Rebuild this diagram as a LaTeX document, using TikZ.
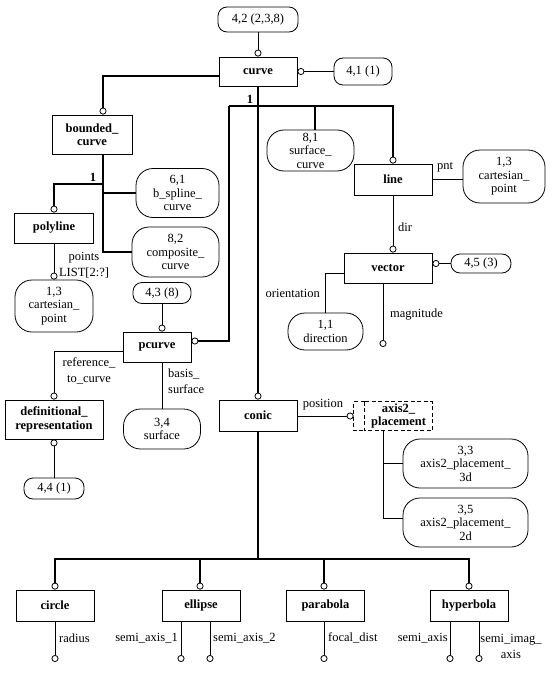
\documentclass[tikz,border=0pt]{standalone}
\usepackage{fontspec}
\setmainfont{Liberation Serif}
\usetikzlibrary{arrows.meta}
\newcommand{\dgfont}{\fontsize{12.5}{13.5}\selectfont}
\newcommand{\lblfont}{\fontsize{12.5}{16}\selectfont}
\tikzset{
  entity/.style={draw,line width=0.8pt,inner sep=0pt,minimum width=78pt,minimum height=30pt,align=center,font=\dgfont\bfseries},
  pageref/.style={draw,line width=0.8pt,rounded corners=9pt,inner sep=0pt,align=center,font=\dgfont},
  bigref/.style={pageref,rounded corners=17pt},
  sub/.style={line width=1.6pt},
  attr/.style={line width=0.8pt},
  oc/.style={-{Circle[open,length=7pt,width=7pt,line width=0.8pt]}},
  lbl/.style={inner sep=0pt,align=center,font=\lblfont},
  seldash/.style={line width=0.8pt,dash pattern=on 4pt off 2.5pt}
}
\begin{document}
\begin{tikzpicture}[x=1pt,y=-1pt,font=\dgfont]
\useasboundingbox (0,0) rectangle (551,674);
% curve and its references
\node[pageref,minimum width=80pt,minimum height=25pt] (r42) at (258,19.5) {4,2 (2,3,8)};
\node[entity,minimum height=29pt] (curve) at (258,71.5) {curve};
\node[pageref,minimum width=58pt,minimum height=27pt] (r41) at (363,71.5) {4,1 (1)};
\draw[attr,oc] (r42) -- (curve);
\draw[attr,oc] (r41) -- (curve);
% left branch
\node[entity,minimum width=80pt,minimum height=39pt] (bc) at (92,134.5) {bounded\_\\curve};
\node[bigref,minimum width=83pt,minimum height=49pt] (bsp) at (177.5,193) {6,1\\b\_spline\_\\curve};
\node[bigref,minimum width=87pt,minimum height=50pt] (comp) at (175.5,252) {8,2\\composite\_\\curve};
\node[entity,minimum width=79pt] (poly) at (54,228) {polyline};
\node[bigref,minimum width=78pt,minimum height=52pt] (cpl) at (54,306) {1,3\\cartesian\_\\point};
\draw[sub,oc] ([yshift=-4.5pt]curve.west) -| ([xshift=11pt]bc.north);
\coordinate (lj) at (103,184);
\draw[sub] ([xshift=11pt]bc.south) |- (comp.west);
\draw[sub] (lj |- bsp.west) -- (bsp.west);
\draw[sub,oc] (lj) -| (poly.north);
\node[lbl,font=\dgfont\bfseries] (one2) at (93,177) {1};
\draw[attr,oc] (poly) -- (cpl);
\node[lbl] (pts) at (84,265) {points\\LIST[2:?]};
% pcurve
\node[pageref,minimum width=58pt,minimum height=21pt] (r43) at (162,293) {4,3 (8)};
\node[entity,minimum width=68pt] (pc) at (157,347) {pcurve};
\node[entity,minimum width=98pt,minimum height=39pt] (dr) at (54,419.5) {definitional\_\\representation};
\node[pageref,minimum width=60pt,minimum height=21pt] (r44) at (54,488.5) {4,4 (1)};
\node[bigref,minimum width=77pt,minimum height=40pt] (srf) at (162,429) {3,4\\surface};
\draw[attr,oc] (r43.south) -- (r43.south |- pc.north);
\draw[attr,oc] ([yshift=-4pt]pc.west) -| (dr.north);
\node[lbl] (rtc) at (89,371) {reference\_\\to\_curve};
\draw[attr,oc] (r44) -- (dr);
\draw[attr] (srf.north |- pc.south) -- (srf.north);
\node[lbl,anchor=west,align=left] (bsf) at (168,381) {basis\_\\surface};
% subtypes of curve
\node[bigref,minimum width=87pt,minimum height=41pt] (sc) at (310.5,150.5) {8,1\\surface\_\\curve};
\node[entity,minimum height=31pt] (lin) at (393,179.5) {line};
\node[entity,minimum height=31pt] (conic) at (258,415.5) {conic};
\coordinate (tl) at (229,106);
\draw[sub,oc] (curve) -- (conic);
\draw[sub,oc] (tl) -| (lin.north);
\draw[sub,oc] (tl) |- ([yshift=6pt]pc.east);
\draw[sub] ([xshift=4.5pt]sc.north |- tl) -- ([xshift=4.5pt]sc.north);
\node[lbl,font=\dgfont\bfseries] (one1) at (250,99) {1};
% line and vector
\node[bigref,minimum width=82pt,minimum height=53pt] (cpr) at (504,176.5) {1,3\\cartesian\_\\point};
\node[entity,minimum width=88pt] (vec) at (388,268) {vector};
\node[pageref,minimum width=60pt,minimum height=19pt] (r45) at (481,263.5) {4,5 (3)};
\node[bigref,minimum width=75pt,minimum height=37pt] (dirn) at (325.5,331.5) {1,1\\direction};
\draw[attr] (lin.east) -- (lin.east -| cpr.west);
\node[lbl] (pnt) at (445,167) {pnt};
\draw[attr,oc] (lin.south) -- (lin.south |- vec.north);
\node[lbl,anchor=west] (dirl) at (398,227) {dir};
\draw[attr,oc] (r45.west) -- (r45.west -| vec.east);
\draw[attr] ([yshift=-5pt]vec.west) -| (dirn.north);
\node[lbl,anchor=east] (ori) at (320,293) {orientation};
\coordinate (magend) at (383,347);
\draw[attr,oc] (vec.south -| magend) -- (magend);
\node[lbl,anchor=west] (mag) at (390,315) {magnitude};
% conic and axis2_placement
\node[entity,draw=none,minimum width=67pt,minimum height=28pt] (ap) at (398.5,416) {axis2\_\\placement};
\draw[seldash] (ap.north west) rectangle (ap.south east);
\draw[seldash] (ap.north west) -- ([xshift=-11pt]ap.north west) -- ([xshift=-11pt]ap.south west) -- (ap.south west);
\draw[attr,oc] (conic.east |- ap.west) -- ([xshift=-11pt]ap.west);
\node[lbl] (pos) at (323,405) {position};
\node[bigref,minimum width=125pt,minimum height=49pt] (a3d) at (465.5,463.5) {3,3\\axis2\_placement\_\\3d};
\node[bigref,minimum width=125pt,minimum height=49pt] (a2d) at (465.5,522.5) {3,5\\axis2\_placement\_\\2d};
\draw[attr] ([xshift=-15.5pt]ap.south) |- ([yshift=4.5pt]a2d.west);
\draw[attr] ([xshift=-15.5pt]ap.south |- a3d.west) -- (a3d.west);
% subtypes of conic
\node[entity,minimum height=31pt] (circ) at (55,605.5) {circle};
\node[entity,minimum height=31pt] (ell) at (201,605.5) {ellipse};
\node[entity,minimum height=31pt] (par) at (325.5,605.5) {parabola};
\node[entity,minimum height=31pt] (hyp) at (469,605.5) {hyperbola};
\coordinate (bus) at (258,559);
\draw[sub] (conic.south) -- (bus);
\draw[sub,oc] (bus) -| (circ.north);
\draw[sub,oc] (bus) -| ([xshift=-1pt]ell.north);
\draw[sub,oc] (bus) -| ([xshift=-1.5pt]par.north);
\draw[sub,oc] (bus) -| (hyp.north);
% attributes of the conics
\coordinate (bot) at (0,662);
\draw[attr,oc] (circ.south) -- (circ.south |- bot);
\node[lbl,anchor=west] (rad) at (59,638) {radius};
\draw[attr,oc] ([xshift=-20pt]ell.south) -- ([xshift=-20pt]ell.south |- bot);
\draw[attr,oc] ([xshift=9pt]ell.south) -- ([xshift=9pt]ell.south |- bot);
\node[lbl,anchor=east] (sa1) at (178,638) {semi\_axis\_1};
\node[lbl,anchor=west] (sa2) at (213,638) {semi\_axis\_2};
\draw[attr,oc] ([xshift=-1.5pt]par.south) -- ([xshift=-1.5pt]par.south |- bot);
\node[lbl,anchor=west] (fd) at (328,638) {focal\_dist};
\draw[attr,oc] ([xshift=-19pt]hyp.south) -- ([xshift=-19pt]hyp.south |- bot);
\draw[attr,oc] ([xshift=10pt]hyp.south) -- ([xshift=10pt]hyp.south |- bot);
\node[lbl,anchor=east] (sax) at (448,638) {semi\_axis};
\node[lbl] (sia) at (511,646) {semi\_imag\_\\axis};
\end{tikzpicture}
\end{document}
